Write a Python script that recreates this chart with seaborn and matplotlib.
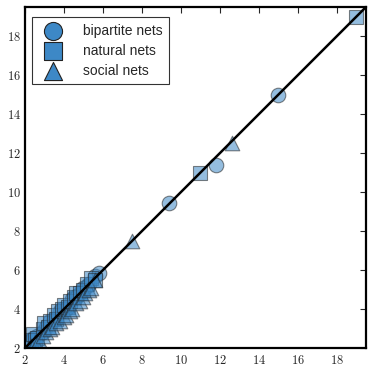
import matplotlib
matplotlib.use("Agg")
import matplotlib.pyplot as plt
import seaborn as sns
import numpy as np
import pandas as pd
from matplotlib.ticker import FuncFormatter, MultipleLocator

bip_x = [2.3, 2.4, 2.6, 2.9, 3.1, 3.3, 3.5, 3.6, 3.8, 3.9, 4.1, 4.2, 4.4, 4.5,
         4.6, 4.7, 4.9, 5.0, 5.2, 5.3, 5.6, 5.8, 9.4, 11.8, 15.0]
bip_y = [2.4, 2.5, 2.6, 2.8, 3.1, 3.4, 3.5, 3.5, 3.9, 4.0, 4.0, 4.1, 4.5, 4.6,
         4.6, 4.7, 4.9, 5.1, 5.2, 5.3, 5.7, 5.85, 9.45, 11.4, 15.0]
nat_x = [2.3, 2.4, 2.5, 2.6, 2.9, 3.0, 3.2, 3.3, 3.5, 3.6, 3.7, 3.9, 4.0, 4.2,
         4.3, 4.5, 4.6, 4.8, 5.0, 5.2, 5.4, 5.6, 11.0, 19.0]
nat_y = [2.4, 2.7, 2.4, 2.5, 3.0, 3.3, 3.1, 3.4, 3.7, 3.5, 3.9, 4.0, 4.2, 4.1,
         4.4, 4.6, 4.8, 4.8, 5.0, 5.3, 5.6, 5.5, 11.0, 19.0]
soc_x = [2.2, 2.3, 2.5, 2.7, 2.9, 3.1, 3.3, 3.4, 3.6, 3.8, 4.0, 4.1, 4.3, 4.4,
         4.6, 4.8, 5.0, 5.1, 5.3, 5.4, 5.6, 7.5, 12.6]
soc_y = [2.0, 2.1, 2.3, 2.4, 2.6, 2.8, 3.0, 3.1, 3.3, 3.4, 3.6, 3.7, 3.9, 4.0,
         4.3, 4.4, 4.6, 4.8, 5.0, 5.1, 5.5, 7.5, 12.5]

groups = ["bipartite nets", "natural nets", "social nets"]
markers = {"bipartite nets": "o", "natural nets": "s", "social nets": "^"}

df = pd.concat([
    pd.DataFrame({"x": bip_x, "y": bip_y, "kind": "bipartite nets"}),
    pd.DataFrame({"x": nat_x, "y": nat_y, "kind": "natural nets"}),
    pd.DataFrame({"x": soc_x, "y": soc_y, "kind": "social nets"}),
])

sns.set_style("white")
plt.rcParams["mathtext.fontset"] = "cm"

blue = "#3d88c6"

fig = plt.figure(figsize=(3.73, 3.71), dpi=100)
ax = fig.add_axes([25 / 373, 23 / 371, 341 / 373, 341 / 371])

for g in groups:
    sub = df[df["kind"] == g]
    sns.scatterplot(x=sub["x"], y=sub["y"], marker=markers[g], s=110,
                    color=blue, alpha=0.55, edgecolor="#222222", linewidth=0.8,
                    label=g, ax=ax, zorder=2)

ax.plot([2, 19.5], [2, 19.5], color="black", lw=1.8, zorder=3)

ax.set_xlim(2, 19.5)
ax.set_ylim(2, 19.5)
ax.set_xlabel("")
ax.set_ylabel("")
ax.xaxis.set_major_locator(MultipleLocator(2))
ax.yaxis.set_major_locator(MultipleLocator(2))
fmt = FuncFormatter(lambda v, p: r"$\mathbf{%d}$" % v)
ax.xaxis.set_major_formatter(fmt)
ax.yaxis.set_major_formatter(fmt)
ax.tick_params(which="both", direction="in", top=True, right=True,
               length=4, width=0.8, labelsize=9, pad=3)
ax.tick_params(axis="x", pad=4)
for sp in ax.spines.values():
    sp.set_linewidth(1.6)
    sp.set_color("black")

leg = ax.legend(loc="upper left", frameon=True, fancybox=False,
                prop={"family": "Liberation Sans", "size": 10},
                handletextpad=1.0, labelspacing=0.45, borderpad=0.45,
                handlelength=2.2, bbox_to_anchor=(0.0, 0.99))
leg.get_frame().set_edgecolor("black")
leg.get_frame().set_linewidth(0.8)
for h in leg.legend_handles:
    h.set_alpha(1.0)
    h.set_sizes([170])

fig.savefig("out.png", dpi=100)
